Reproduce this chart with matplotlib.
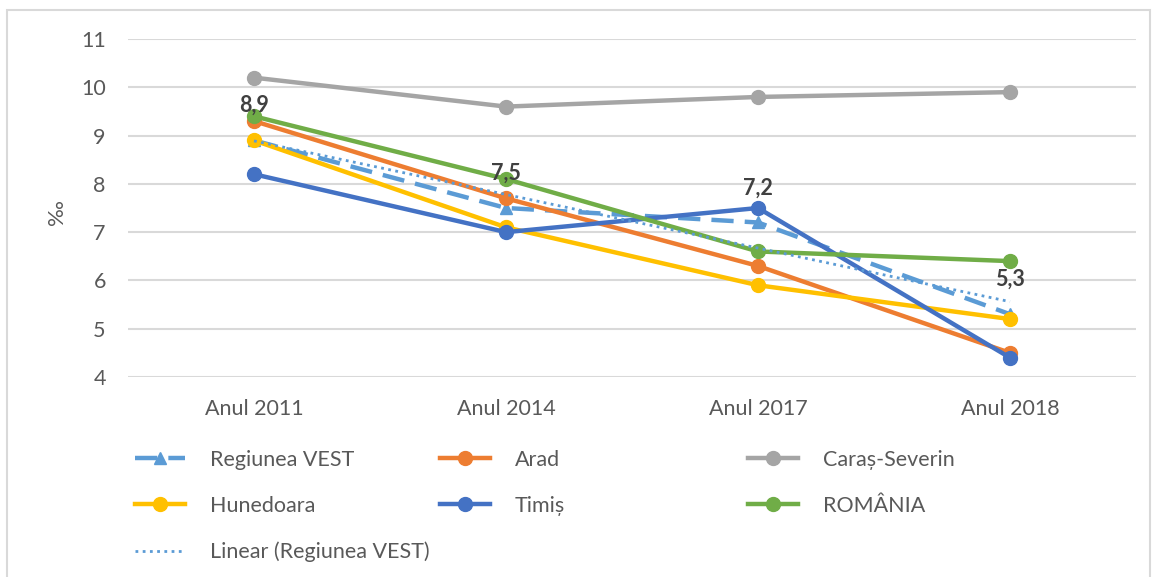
import numpy as np
import matplotlib.pyplot as plt
from matplotlib.patches import Rectangle

plt.rcParams['font.family'] = ['Lato', 'DejaVu Sans']

years = ['Anul 2011', 'Anul 2014', 'Anul 2017', 'Anul 2018']
vest = [8.9, 7.5, 7.2, 5.3]
arad = [9.3, 7.7, 6.3, 4.5]
caras = [10.2, 9.6, 9.8, 9.9]
hunedoara = [8.9, 7.1, 5.9, 5.2]
timis = [8.2, 7.0, 7.5, 4.4]
romania = [9.4, 8.1, 6.6, 6.4]
vest_labels = ['8,9', '7,5', '7,2', '5,3']

W, H = 1159, 577
fig = plt.figure(figsize=(W / 100, H / 100), dpi=100)
ax = fig.add_axes([128 / W, 1 - 377 / H, 1008 / W, 338 / H])

# chart border
fig.patches.append(Rectangle((7 / W, -0.05), 1143 / W, 1 - 10 / H + 0.05,
                             transform=fig.transFigure, fill=False,
                             edgecolor='#d9d9d9', lw=1.5))

x = np.arange(len(years))
lw = 3.2
ms = 10

l_vest, = ax.plot(x, vest, color='#5b9bd5', lw=lw, ls=(0, (5, 2.5)),
                  marker='^', ms=9, label='Regiunea VEST', zorder=3)
l_arad, = ax.plot(x, arad, color='#ed7d31', lw=lw, marker='o', ms=ms,
                  label='Arad', zorder=4)
l_caras, = ax.plot(x, caras, color='#a5a5a5', lw=lw, marker='o', ms=ms,
                   label='Caraș-Severin', zorder=5)
l_hun, = ax.plot(x, hunedoara, color='#ffc000', lw=lw, marker='o', ms=ms,
                 label='Hunedoara', zorder=6)
l_tim, = ax.plot(x, timis, color='#4472c4', lw=lw, marker='o', ms=ms,
                 label='Timiș', zorder=7)
l_rom, = ax.plot(x, romania, color='#70ad47', lw=lw, marker='o', ms=ms,
                 label='ROMÂNIA', zorder=8)

# linear trendline of Regiunea VEST
coef = np.polyfit(x + 1, vest, 1)
trend = np.polyval(coef, x + 1)
l_trend, = ax.plot(x, trend, color='#5b9bd5', lw=2, ls=(0, (1, 1.6)),
                   label='Linear (Regiunea VEST)', zorder=9)

for xi, yi, t in zip(x, vest, vest_labels):
    ax.annotate(t, (xi, yi), xytext=(0, 25), textcoords='offset points',
                ha='center', va='center', fontsize=15.5, fontweight='bold',
                color='#404040', zorder=10)

ax.set_xlim(-0.5, 3.5)
ax.set_ylim(4, 11)
ax.set_yticks(range(4, 12))
ax.set_xticks(x)
ax.set_xticklabels(years)
ax.grid(axis='y', color='#d9d9d9', lw=1.5)
ax.set_axisbelow(True)
for s in ax.spines.values():
    s.set_visible(False)
ax.tick_params(length=0, labelsize=15.5, labelcolor='#595959')
ax.tick_params(axis='y', pad=16)
ax.tick_params(axis='x', pad=16)

fig.text(57 / W, 1 - 212 / H, '‰', rotation=90, ha='center', va='center',
         fontsize=16, color='#595959')

cols = [[l_vest, l_hun, l_trend], [l_arad, l_tim], [l_caras, l_rom]]
xs = [135, 440, 748]
for handles, xp in zip(cols, xs):
    leg = fig.legend(handles=handles, loc='upper left',
                     bbox_to_anchor=(xp / W, 1 - 450 / H), frameon=False,
                     fontsize=15.5, labelcolor='#595959', handlelength=2.33,
                     handletextpad=1.15, labelspacing=1.2, borderpad=0,
                     borderaxespad=0, numpoints=1)

fig.savefig('out.png', dpi=100)
